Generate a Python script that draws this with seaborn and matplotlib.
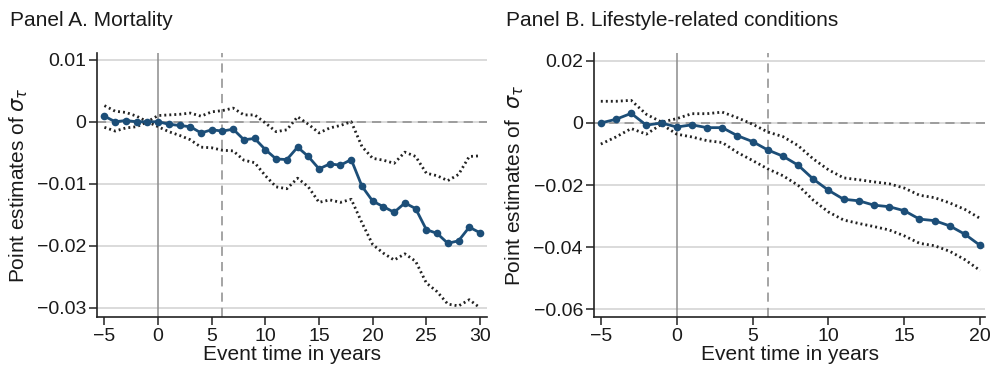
import numpy as np
import pandas as pd
import matplotlib
matplotlib.use("Agg")
import matplotlib.pyplot as plt
import seaborn as sns

# Panel A: mortality, event time -5..30
t_a = list(range(-5, 31))
est_a = [0.0009, 0.0000, 0.0002, 0.0000, 0.0000, 0.0000, -0.0004, -0.0006, -0.0008, -0.0018,
         -0.0013, -0.0015, -0.0012, -0.0029, -0.0027, -0.0045, -0.0060, -0.0061, -0.0041, -0.0056,
         -0.0076, -0.0068, -0.0070, -0.0061, -0.0104, -0.0128, -0.0137, -0.0146, -0.0131, -0.0140,
         -0.0174, -0.0180, -0.0196, -0.0192, -0.0170, -0.0179]
hi_a = [0.0026, 0.0017, 0.0015, 0.0009, 0.0000, 0.0010, 0.0011, 0.0012, 0.0014, 0.0009,
        0.0016, 0.0018, 0.0022, 0.0011, 0.0011, -0.0002, -0.0016, -0.0013, 0.0008, -0.0004,
        -0.0018, -0.0010, -0.0006, 0.0000, -0.0040, -0.0059, -0.0062, -0.0067, -0.0049, -0.0056,
        -0.0083, -0.0087, -0.0095, -0.0085, -0.0056, -0.0055]
lo_a = [-0.0009, -0.0015, -0.0010, -0.0008, 0.0000, -0.0008, -0.0016, -0.0022, -0.0029, -0.0041,
        -0.0042, -0.0046, -0.0047, -0.0062, -0.0066, -0.0087, -0.0105, -0.0108, -0.0091, -0.0105,
        -0.0130, -0.0126, -0.0130, -0.0125, -0.0163, -0.0198, -0.0212, -0.0223, -0.0213, -0.0225,
        -0.0260, -0.0274, -0.0294, -0.0297, -0.0287, -0.0300]

# Panel B: lifestyle-related conditions, event time -5..20
t_b = list(range(-5, 21))
est_b = [0.0000, 0.0012, 0.0031, -0.0007, 0.0000, -0.0013, -0.0006, -0.0015, -0.0015, -0.0041,
         -0.0060, -0.0087, -0.0107, -0.0136, -0.0181, -0.0217, -0.0246, -0.0251, -0.0265, -0.0270,
         -0.0283, -0.0310, -0.0315, -0.0332, -0.0359, -0.0395]
hi_b = [0.0070, 0.0070, 0.0073, 0.0028, 0.0003, 0.0014, 0.0030, 0.0030, 0.0035, 0.0017,
        -0.0004, -0.0029, -0.0044, -0.0073, -0.0116, -0.0151, -0.0177, -0.0183, -0.0190, -0.0196,
        -0.0210, -0.0233, -0.0241, -0.0258, -0.0279, -0.0308]
lo_b = [-0.0068, -0.0045, -0.0018, -0.0036, -0.0004, -0.0036, -0.0045, -0.0057, -0.0063, -0.0095,
        -0.0121, -0.0148, -0.0170, -0.0201, -0.0249, -0.0287, -0.0313, -0.0324, -0.0334, -0.0345,
        -0.0364, -0.0388, -0.0396, -0.0414, -0.0441, -0.0476]

sns.set_style("white")
plt.rcParams['font.family'] = ['Liberation Sans', 'DejaVu Sans']
plt.rcParams['mathtext.fontset'] = 'dejavusans'

line_col = "#1c4e78"
txt_col = "#1a1a1a"
dot_style = (0, (0.7, 1.1))

fig = plt.figure(figsize=(9.9, 3.7), dpi=100)
ax_a = fig.add_axes([0.098, 0.143, 0.394, 0.714])
ax_b = fig.add_axes([0.600, 0.143, 0.395, 0.714])


def draw_panel(ax, t, est, hi, lo, xlim, ylim, xticks, yticks, ylabels, ylab):
    df = pd.DataFrame({'t': t, 'est': est, 'hi': hi, 'lo': lo})
    for y in yticks:
        ax.axhline(y, color="#d4d4d4", lw=1.2, zorder=0)
    ax.axhline(0, color="#8c8c8c", lw=1.1, ls=(0, (6, 4)), zorder=1)
    ax.axvline(0, color="#8c8c8c", lw=1.1, zorder=1)
    ax.axvline(6, color="#8c8c8c", lw=1.1, ls=(0, (6, 4)), zorder=1)
    sns.lineplot(data=df, x='t', y='hi', ax=ax, color="#222222", lw=2.0, ls=dot_style, zorder=2)
    sns.lineplot(data=df, x='t', y='lo', ax=ax, color="#222222", lw=2.0, ls=dot_style, zorder=2)
    sns.lineplot(data=df, x='t', y='est', ax=ax, color=line_col, lw=2.0, marker='o',
                 markersize=5.5, markeredgewidth=0, zorder=3)
    ax.set_xlim(*xlim)
    ax.set_ylim(*ylim)
    ax.set_xticks(xticks)
    ax.set_yticks(yticks)
    ax.set_yticklabels(ylabels)
    ax.set_xticklabels([str(v).replace('-', '\u2212') for v in xticks])
    ax.tick_params(axis='both', direction='out', length=6, width=1.1, color="#222222",
                   labelsize=14, labelcolor=txt_col, left=True, bottom=True, pad=2)
    for s in ['top', 'right']:
        ax.spines[s].set_visible(False)
    for s in ['left', 'bottom']:
        ax.spines[s].set_color("#222222")
        ax.spines[s].set_linewidth(1.2)
    ax.set_xlabel("Event time in years", fontsize=15, color=txt_col, labelpad=0)
    ax.set_ylabel(ylab, fontsize=15, color=txt_col, labelpad=5)


draw_panel(ax_a, t_a, est_a, hi_a, lo_a, (-5.69, 30.66), (-0.0315, 0.0111),
           [-5, 0, 5, 10, 15, 20, 25, 30], [0.01, 0, -0.01, -0.02, -0.03],
           ["0.01", "0", "\u22120.01", "\u22120.02", "\u22120.03"],
           r"Point estimates of $\sigma_\tau$")
draw_panel(ax_b, t_b, est_b, hi_b, lo_b, (-5.45, 20.32), (-0.0626, 0.0226),
           [-5, 0, 5, 10, 15, 20], [0.02, 0, -0.02, -0.04, -0.06],
           ["0.02", "0", "\u22120.02", "\u22120.04", "\u22120.06"],
           r"Point estimates of  $\sigma_\tau$")

fig.text(0.010, 0.945, "Panel A. Mortality", fontsize=15, color=txt_col, va='center', ha='left')
fig.text(0.511, 0.945, "Panel B. Lifestyle-related conditions", fontsize=15, color=txt_col,
         va='center', ha='left')

fig.savefig("out.png", dpi=100)
